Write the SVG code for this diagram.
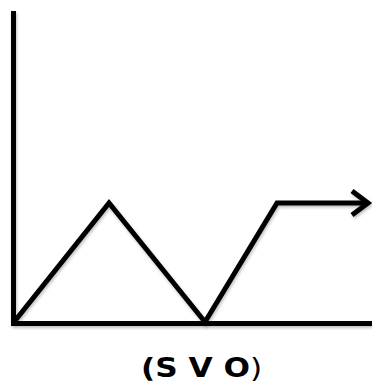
<svg xmlns="http://www.w3.org/2000/svg" width="372" height="387" viewBox="0 0 372 387">
<style>
.ln{fill:none;stroke:#000;stroke-width:5;stroke-linejoin:miter;stroke-linecap:butt}
.lbl{font-family:"DejaVu Sans",Verdana,sans-serif;font-size:26px;font-weight:bold;fill:#000}
</style>
<defs>
<filter id="sh" x="-10%" y="-10%" width="130%" height="130%">
<feDropShadow dx="1" dy="2" stdDeviation="1.5" flood-color="#000" flood-opacity="0.25"/>
</filter>
</defs>
<g id="axes" filter="url(#sh)">
<polyline class="ln" points="13.5,11 13.5,323.5 372,323.5"/>
</g>
<g id="connectors" filter="url(#sh)">
<polyline class="ln" points="14,322 109,203 205,322 277,203 368,203"/>
<polyline class="ln" points="352,191 368,203 352,215"/>
</g>
<g id="label">
<text class="lbl" transform="translate(141,377) scale(1.2,1)">(S V O<tspan font-weight="normal">)</tspan></text>
</g>
</svg>
